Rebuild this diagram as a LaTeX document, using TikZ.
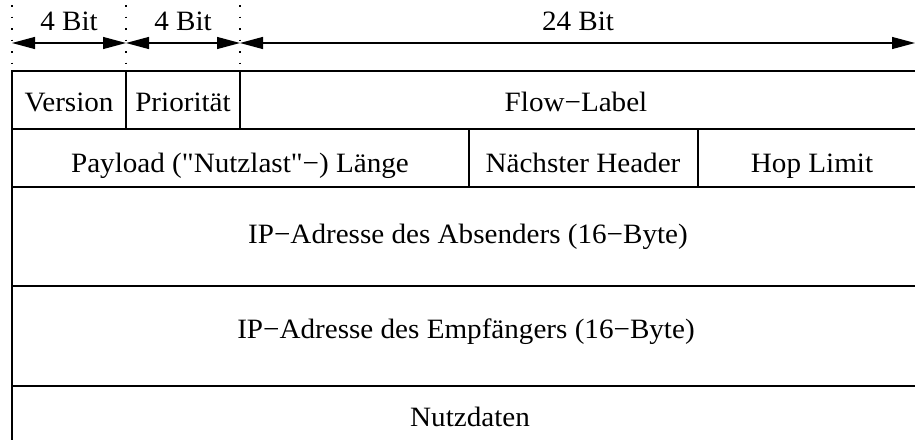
\documentclass[tikz,border=0pt]{standalone}
\usepackage{fontspec}
\setmainfont[FakeStretch=1.04,Ligatures=TeXOff]{Liberation Serif}
\usetikzlibrary{arrows.meta}
\begin{document}
\begin{tikzpicture}[x=1pt,y=-1pt,
  lbl/.style={anchor=base,inner sep=0pt,font=\fontsize{28}{30}\selectfont},
  frame/.style={line width=1.6pt},
  dimline/.style={line width=1.2pt},
  guide/.style={line width=1.3pt,dash pattern=on 1.5pt off 10pt}]
\useasboundingbox (0,0) rectangle (915,439);
\clip (0,0) rectangle (915,439);
% guide coordinates
\coordinate (g0t) at (12,5);  \coordinate (g0b) at (12,68);
\coordinate (g1t) at (126,5); \coordinate (g1b) at (126,68);
\coordinate (g2t) at (240,5); \coordinate (g2b) at (240,68);
\coordinate (a0) at (12,43); \coordinate (a1) at (126,43);
\coordinate (a2) at (240,43); \coordinate (a3) at (915,43);
\draw[guide] (g0t) -- (g0b);
\draw[guide] (g1t) -- (g1b);
\draw[guide] (g2t) -- (g2b);
\draw[dimline,{Triangle[length=23pt,width=12pt]}-{Triangle[length=23pt,width=12pt]}] (a0) -- (a1);
\draw[dimline,{Triangle[length=23pt,width=12pt]}-{Triangle[length=23pt,width=12pt]}] (a1) -- (a2);
\draw[dimline,{Triangle[length=23pt,width=12pt]}-{Triangle[length=23pt,width=12pt]}] (a2) -- (a3);
% frame
\coordinate (tl) at (12,71); \coordinate (br) at (930,500);
\draw[frame] (tl) rectangle (br);
\coordinate (r1l) at (12,129); \coordinate (r1r) at (930,129);
\coordinate (r2l) at (12,187); \coordinate (r2r) at (930,187);
\coordinate (r3l) at (12,286); \coordinate (r3r) at (930,286);
\coordinate (r4l) at (12,386); \coordinate (r4r) at (930,386);
\draw[frame] (r1l) -- (r1r);
\draw[frame] (r2l) -- (r2r);
\draw[frame] (r3l) -- (r3r);
\draw[frame] (r4l) -- (r4r);
\coordinate (v1t) at (126,71); \coordinate (v1b) at (126,129);
\coordinate (v2t) at (240,71); \coordinate (v2b) at (240,129);
\coordinate (v3t) at (469,129); \coordinate (v3b) at (469,187);
\coordinate (v4t) at (698,129); \coordinate (v4b) at (698,187);
\draw[frame] (v1t) -- (v1b);
\draw[frame] (v2t) -- (v2b);
\draw[frame] (v3t) -- (v3b);
\draw[frame] (v4t) -- (v4b);
% labels
\node[lbl] (b1) at (69,30) {4 Bit};
\node[lbl] (b2) at (183,30) {4 Bit};
\node[lbl] (b3) at (578,30) {24 Bit};
\node[lbl] (ver) at (69,111) {Version};
\node[lbl] (pri) at (183,111) {Priorität};
\node[lbl] (flow) at (576,111) {Flow−Label};
\node[lbl] (pay) at (240,172) {Payload ("Nutzlast"−) Länge};
\node[lbl] (nh) at (583,172) {Nächster Header};
\node[lbl] (hop) at (812,172) {Hop Limit};
\node[lbl] (abs) at (468,243) {IP−Adresse des Absenders (16−Byte)};
\node[lbl] (emp) at (466,338) {IP−Adresse des Empfängers (16−Byte)};
\node[lbl] (nutz) at (470,426) {Nutzdaten};
\end{tikzpicture}
\end{document}
